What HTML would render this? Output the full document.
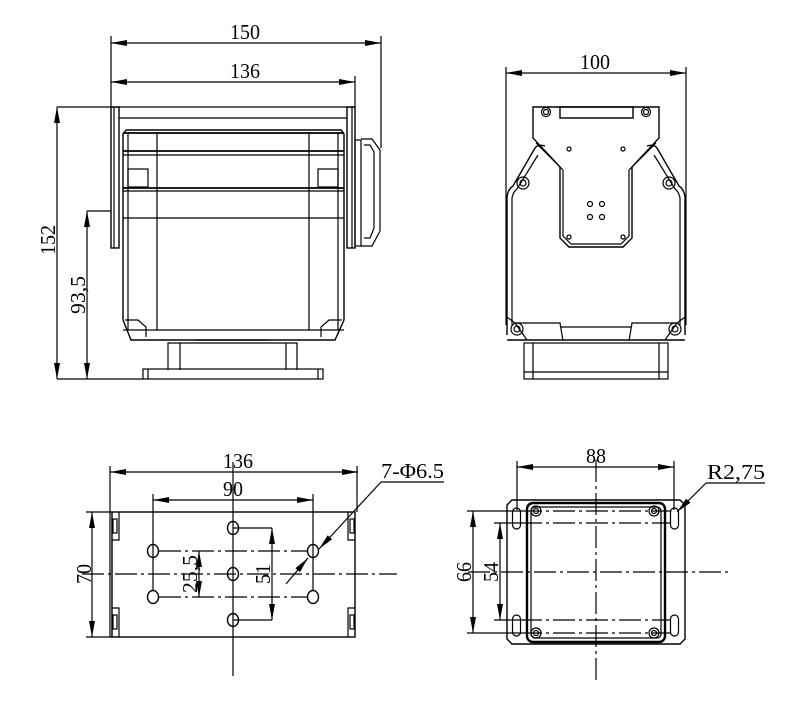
<!DOCTYPE html>
<html><head><meta charset="utf-8"><style>
html,body{margin:0;padding:0;background:#fff;}
svg{display:block;}
text{font-family:"Liberation Serif",serif;font-size:21px;fill:#000;}
</style></head><body>
<svg width="786" height="709" viewBox="0 0 786 709" xmlns="http://www.w3.org/2000/svg">
<defs>
<marker id="a" viewBox="0 0 16 6" refX="16" refY="3" markerWidth="16" markerHeight="6" orient="auto-start-reverse" markerUnits="userSpaceOnUse"><path d="M0,0 L16,3 L0,6 Z" fill="#000"/></marker>
</defs>
<g stroke="#000" stroke-width="1.2" fill="none">
<line x1="111" y1="43" x2="381" y2="43" marker-start="url(#a)" marker-end="url(#a)"/>
<line x1="111" y1="82" x2="355" y2="82" marker-start="url(#a)" marker-end="url(#a)"/>
<line x1="111" y1="36" x2="111" y2="107"/>
<line x1="381" y1="36" x2="381" y2="148"/>
<line x1="355" y1="76" x2="355" y2="107"/>
<line x1="57" y1="107" x2="355" y2="107"/>
<line x1="119" y1="118" x2="347" y2="118"/>
<rect x="111" y="107" width="8" height="141" stroke-width="1.4"/>
<line x1="114" y1="107" x2="114" y2="248"/>
<rect x="347" y="107" width="8" height="141" stroke-width="1.4"/>
<line x1="352" y1="107" x2="352" y2="248"/>
<rect x="355" y="140" width="6" height="106"/>
<path d="M361,139 H372 L380,150 V231 L372,246 H361"/>
<path d="M364,145 H370 L374,152 V228 L370,238 H364"/>
<path d="M126,130 H341 L344,134 V315 L344,320" stroke-width="1.4"/>
<path d="M126,130 L123,134 V320" stroke-width="1.4"/>
<line x1="123" y1="133" x2="344" y2="133" stroke-width="1.8"/>
<line x1="123" y1="151" x2="344" y2="151" stroke-width="1.8"/>
<line x1="123" y1="155" x2="344" y2="155"/>
<line x1="123" y1="188" x2="344" y2="188" stroke-width="1.8"/>
<line x1="123" y1="191" x2="344" y2="191"/>
<line x1="123" y1="218" x2="344" y2="218"/>
<line x1="123" y1="330" x2="344" y2="330"/>
<line x1="128" y1="133" x2="128" y2="330"/>
<line x1="157" y1="133" x2="157" y2="330"/>
<line x1="309" y1="133" x2="309" y2="330"/>
<line x1="338" y1="133" x2="338" y2="330"/>
<rect x="128" y="169" width="20" height="18"/>
<rect x="318" y="169" width="20" height="18"/>
<path d="M123,320 L131,340 H335 L344,320" stroke-width="1.4"/>
<path d="M125,320 H138 L146,327 V337"/>
<path d="M342,320 H329 L321,327 V337"/>
<path d="M168,370 V343 H297 V370"/>
<line x1="180" y1="343" x2="180" y2="370"/>
<line x1="286" y1="343" x2="286" y2="370"/>
<line x1="195" y1="340" x2="270" y2="340"/>
<rect x="143" y="369" width="180" height="10"/>
<line x1="148" y1="369" x2="148" y2="379"/>
<line x1="318" y1="369" x2="318" y2="379"/>
<line x1="57" y1="107" x2="57" y2="379" marker-start="url(#a)" marker-end="url(#a)"/>
<line x1="57" y1="379" x2="143" y2="379"/>
<line x1="87" y1="211" x2="87" y2="379" marker-start="url(#a)" marker-end="url(#a)"/>
<line x1="87" y1="211" x2="111" y2="211"/>

<line x1="506" y1="73" x2="686" y2="73" marker-start="url(#a)" marker-end="url(#a)"/>
<line x1="506" y1="67" x2="506" y2="325"/>
<line x1="686" y1="67" x2="686" y2="325"/>
<path d="M533,107 H659 V138 L632,167 V238 L623,247 H569 L560,238 V167 L533,138 Z" stroke-width="1.4"/>
<path d="M536,143 L563,170 V236 L571,244 H621 L629,236 V170 L656,143"/>
<rect x="560" y="107" width="73" height="11" stroke-width="1.4"/>
<circle cx="546" cy="112" r="4.5"/><circle cx="546" cy="112" r="2.5"/>
<circle cx="646" cy="112" r="4.5"/><circle cx="646" cy="112" r="2.5"/>
<circle cx="569" cy="149" r="2"/><circle cx="623" cy="149" r="2"/>
<circle cx="569" cy="237" r="2"/><circle cx="623" cy="237" r="2"/>
<circle cx="590" cy="204" r="2.5"/><circle cx="602" cy="204" r="2.5"/>
<circle cx="590" cy="217" r="2.5"/><circle cx="602" cy="217" r="2.5"/>
<path d="M507,335 V197 Q508,189 513,186 L535,148 Q538,144 545,146" stroke-width="1.4"/>
<path d="M512,325 V198 Q513,192 517,189 L538,155"/>
<path d="M685,335 V197 Q684,189 679,186 L657,148 Q654,144 647,146" stroke-width="1.4"/>
<path d="M680,325 V198 Q679,192 675,189 L654,155"/>
<circle cx="523" cy="183" r="6"/><circle cx="523" cy="183" r="3"/>
<circle cx="669" cy="183" r="6"/><circle cx="669" cy="183" r="3"/>
<path d="M507,317 L515,323 H560 L563,341"/>
<path d="M685,317 L677,323 H632 L629,341"/>
<path d="M515,323 L527,340 M677,323 L665,340"/>
<line x1="560" y1="327" x2="632" y2="327"/>
<line x1="507" y1="340" x2="685" y2="340" stroke-width="1.4"/>
<circle cx="517" cy="329" r="6"/><circle cx="517" cy="329" r="3"/>
<circle cx="675" cy="329" r="6"/><circle cx="675" cy="329" r="3"/>
<rect x="524" y="343" width="144" height="36"/>
<line x1="533" y1="343" x2="533" y2="379"/>
<line x1="659" y1="343" x2="659" y2="379"/>
<line x1="524" y1="372" x2="668" y2="372"/>

<line x1="110" y1="472" x2="358" y2="472" marker-start="url(#a)" marker-end="url(#a)"/>
<line x1="110" y1="466" x2="110" y2="637"/>
<line x1="357" y1="466" x2="357" y2="512"/>
<line x1="153" y1="500" x2="313" y2="500" marker-start="url(#a)" marker-end="url(#a)"/>
<line x1="153" y1="494" x2="153" y2="591"/>
<line x1="313" y1="494" x2="313" y2="591"/>
<rect x="112" y="512" width="243" height="125" stroke-width="1.4"/>
<path d="M119,512 V540 H112 M119,637 V608 H112 M348,512 V540 H355 M348,637 V608 H355"/>
<rect x="113" y="519" width="4" height="14"/><rect x="113" y="615" width="4" height="14"/>
<rect x="350" y="519" width="4" height="14"/><rect x="350" y="615" width="4" height="14"/>
<line x1="92" y1="512" x2="92" y2="637" marker-start="url(#a)" marker-end="url(#a)"/>
<line x1="86" y1="512" x2="112" y2="512"/>
<line x1="86" y1="637" x2="112" y2="637"/>
<line x1="82" y1="574" x2="397" y2="574" stroke-dasharray="22,4,3,4"/>
<line x1="233" y1="462" x2="233" y2="676"/>
<line x1="159" y1="551" x2="307" y2="551" stroke-dasharray="22,4,3,4"/>
<line x1="159" y1="597" x2="307" y2="597" stroke-dasharray="22,4,3,4"/>
<line x1="233" y1="528" x2="272" y2="528"/>
<line x1="233" y1="620" x2="272" y2="620"/>
<line x1="272" y1="528" x2="272" y2="620" marker-start="url(#a)" marker-end="url(#a)"/>
<line x1="199" y1="551" x2="199" y2="597" marker-start="url(#a)" marker-end="url(#a)"/>
<g stroke-width="1.4">
<ellipse cx="233" cy="528" rx="5.5" ry="6.5"/><ellipse cx="153" cy="551" rx="5.5" ry="6.5"/>
<ellipse cx="313" cy="551" rx="5.5" ry="6.5"/><ellipse cx="233" cy="574" rx="5.5" ry="6.5"/>
<ellipse cx="153" cy="597" rx="5.5" ry="6.5"/><ellipse cx="313" cy="597" rx="5.5" ry="6.5"/>
<ellipse cx="233" cy="620" rx="5.5" ry="6.5"/>
</g>
<line x1="381" y1="482" x2="444" y2="482"/>
<line x1="381" y1="482" x2="319" y2="549" marker-end="url(#a)"/>
<line x1="286" y1="584" x2="308" y2="558" marker-end="url(#a)"/>

<line x1="517" y1="467" x2="674" y2="467" marker-start="url(#a)" marker-end="url(#a)"/>
<line x1="517" y1="461" x2="517" y2="510"/>
<line x1="674" y1="461" x2="674" y2="510"/>
<path d="M512,500 H680 L685,505 V639 L680,644 H512 L507,639 V505 Z" stroke-width="1.4"/>
<rect x="527" y="503" width="138" height="139" rx="6" stroke-width="2.4"/>
<rect x="531" y="507" width="130" height="131" rx="4"/>
<rect x="512.5" y="508" width="8" height="21" rx="4"/>
<rect x="670.5" y="508" width="8" height="21" rx="4"/>
<rect x="512.5" y="615" width="8" height="21" rx="4"/>
<rect x="670.5" y="615" width="8" height="21" rx="4"/>
<circle cx="536" cy="511" r="5"/><circle cx="536" cy="511" r="2.5"/>
<circle cx="654" cy="511" r="5"/><circle cx="654" cy="511" r="2.5"/>
<circle cx="536" cy="633" r="5"/><circle cx="536" cy="633" r="2.5"/>
<circle cx="654" cy="633" r="5"/><circle cx="654" cy="633" r="2.5"/>
<line x1="596" y1="460" x2="596" y2="680" stroke-dasharray="22,4,3,4"/>
<line x1="468" y1="572" x2="730" y2="572" stroke-dasharray="22,4,3,4"/>
<line x1="520" y1="511" x2="671" y2="511" stroke-dasharray="22,4,3,4"/>
<line x1="520" y1="633" x2="671" y2="633" stroke-dasharray="22,4,3,4"/>
<line x1="520" y1="523" x2="671" y2="523" stroke-dasharray="22,4,3,4"/>
<line x1="520" y1="620" x2="671" y2="620" stroke-dasharray="22,4,3,4"/>
<line x1="467" y1="511" x2="520" y2="511"/>
<line x1="467" y1="633" x2="520" y2="633"/>
<line x1="494" y1="523" x2="520" y2="523"/>
<line x1="494" y1="620" x2="520" y2="620"/>
<line x1="473" y1="511" x2="473" y2="633" marker-start="url(#a)" marker-end="url(#a)"/>
<line x1="500" y1="523" x2="500" y2="620" marker-start="url(#a)" marker-end="url(#a)"/>
<line x1="706" y1="483" x2="765" y2="483"/>
<line x1="706" y1="483" x2="677" y2="512" marker-end="url(#a)"/>
</g>
<text x="230" y="39" textLength="30" lengthAdjust="spacingAndGlyphs">150</text>
<text x="230" y="78" textLength="30" lengthAdjust="spacingAndGlyphs">136</text>
<text transform="translate(55,240) rotate(-90)" text-anchor="middle" textLength="30" lengthAdjust="spacingAndGlyphs">152</text>
<text transform="translate(85,295) rotate(-90)" text-anchor="middle" textLength="38" lengthAdjust="spacingAndGlyphs">93,5</text>
<text x="580" y="69" textLength="30" lengthAdjust="spacingAndGlyphs">100</text>
<text x="223" y="468" textLength="30" lengthAdjust="spacingAndGlyphs">136</text>
<text x="223" y="496" textLength="20" lengthAdjust="spacingAndGlyphs">90</text>
<text x="381" y="478" textLength="63" lengthAdjust="spacingAndGlyphs">7-Φ6.5</text>
<text transform="translate(91,574) rotate(-90)" text-anchor="middle" textLength="20" lengthAdjust="spacingAndGlyphs">70</text>
<text transform="translate(197,574) rotate(-90)" text-anchor="middle" textLength="38" lengthAdjust="spacingAndGlyphs">25,5</text>
<text transform="translate(270,574) rotate(-90)" text-anchor="middle" textLength="20" lengthAdjust="spacingAndGlyphs">51</text>
<text x="586" y="463" textLength="20" lengthAdjust="spacingAndGlyphs">88</text>
<text x="707" y="479" textLength="58" lengthAdjust="spacingAndGlyphs">R2,75</text>
<text transform="translate(471,572) rotate(-90)" text-anchor="middle" textLength="20" lengthAdjust="spacingAndGlyphs">66</text>
<text transform="translate(498,572) rotate(-90)" text-anchor="middle" textLength="20" lengthAdjust="spacingAndGlyphs">54</text>
</svg>
</body></html>
